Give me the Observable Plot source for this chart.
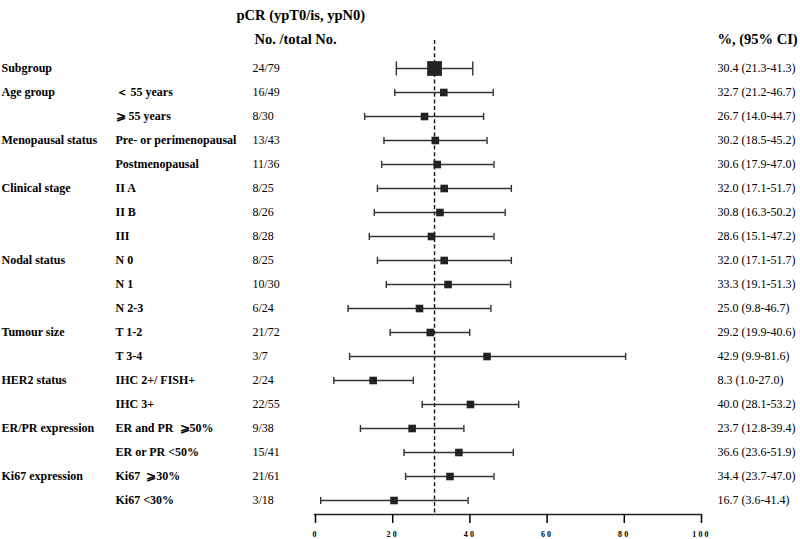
<!DOCTYPE html>
<html>
<head>
<meta charset="utf-8">
<script src="https://cdn.jsdelivr.net/npm/d3@7"></script>
<script src="https://cdn.jsdelivr.net/npm/@observablehq/plot@0.6"></script>
<style>
  html, body { margin: 0; padding: 0; background: #fff; }
  g[aria-label="x-axis tick label"] text { letter-spacing: 2.2px; fill: #000; }
</style>
</head>
<body>
<div id="chart"></div>
<script>
// ---- data ----
const groups = ["Subgroup", "Age group", "", "Menopausal status", "", "Clinical stage", "", "",
  "Nodal status", "", "", "Tumour size", "", "HER2 status", "", "ER/PR expression", "", "Ki67 expression", ""];
const subgroups = ["", "\uFF1C 55 years", "\u2A7E 55 years", "Pre- or perimenopausal", "Postmenopausal",
  "II A", "II B", "III", "N 0", "N 1", "N 2-3", "T 1-2", "T 3-4", "IHC 2+/ FISH+", "IHC 3+",
  "ER and PR  \u2A7E50%", "ER or PR <50%", "Ki67  \u2A7E30%", "Ki67 <30%"];
const counts = ["24/79", "16/49", "8/30", "13/43", "11/36", "8/25", "8/26", "8/28", "8/25", "10/30",
  "6/24", "21/72", "3/7", "2/24", "22/55", "9/38", "15/41", "21/61", "3/18"];
const ciText = ["30.4 (21.3-41.3)", "32.7 (21.2-46.7)", "26.7 (14.0-44.7)", "30.2 (18.5-45.2)",
  "30.6 (17.9-47.0)", "32.0 (17.1-51.7)", "30.8 (16.3-50.2)", "28.6 (15.1-47.2)", "32.0 (17.1-51.7)",
  "33.3 (19.1-51.3)", "25.0 (9.8-46.7)", "29.2 (19.9-40.6)", "42.9 (9.9-81.6)", "8.3 (1.0-27.0)",
  "40.0 (28.1-53.2)", "23.7 (12.8-39.4)", "36.6 (23.6-51.9)", "34.4 (23.7-47.0)", "16.7 (3.6-41.4)"];
// plotted positions as drawn in the figure
const est = [31.1, 33.5, 28.5, 31.3, 31.8, 33.6, 32.5, 30.3, 33.6, 34.6, 27.2, 30.0, 44.7, 15.2, 40.4, 25.3, 37.4, 35.1, 20.6];
const lo  = [21.2, 20.8, 13.0, 18.0, 17.4, 16.3, 15.5, 14.2, 16.3, 18.6, 8.7, 19.6, 9.1, 5.0, 27.9, 11.9, 23.2, 23.6, 1.6];
const hi  = [41.0, 46.3, 43.8, 44.7, 46.5, 51.0, 49.4, 46.5, 51.0, 50.8, 45.7, 40.2, 80.6, 25.6, 52.9, 38.7, 51.5, 46.5, 39.8];
const overall = 31.1;
const xTicks = [0, 20, 40, 60, 80, 100];
const headers = ["pCR (ypT0/is, ypN0)", "No. /total No.", "%, (95% CI)"];

const rows = groups.map((g, i) => ({
  id: i, group: g, sub: subgroups[i], count: counts[i], ci: ciText[i],
  est: est[i], lo: lo[i], hi: hi[i], big: i === 0
}));

// custom symbols (size = pi r^2)
const vbar = { draw(ctx, size) { const r = Math.sqrt(size / Math.PI); ctx.moveTo(0, -r); ctx.lineTo(0, r); } };
const sq = { draw(ctx, size) { const r = Math.sqrt(size / Math.PI); ctx.rect(-r, -r, 2 * r, 2 * r); } };

const W = 800, H = 539, ML = 314, MR = 100, MT = 40, MB = 25;
const ink = "#222";

const chart = Plot.plot({
  width: W, height: H,
  marginLeft: ML, marginRight: MR, marginTop: MT, marginBottom: MB,
  style: { fontFamily: "'Liberation Serif', 'Times New Roman', serif", color: "#000", background: "#fff", overflow: "visible" },
  x: { domain: [0, 100], axis: null },
  y: { type: "point", domain: rows.map(d => d.id), range: [65.5, 502], padding: 0, axis: null },
  r: { type: "identity" },
  marks: [
    Plot.ruleX([overall], { stroke: "#111", strokeWidth: 1.4, strokeDasharray: "4,2.6" }),
    Plot.ruleY(rows, { y: "id", x1: "lo", x2: "hi", stroke: "#333", strokeWidth: 1.3 }),
    Plot.dot(rows, { y: "id", x: "lo", symbol: vbar, r: d => d.big ? 7 : 3.6, stroke: "#333", strokeWidth: 1.4, fill: "none" }),
    Plot.dot(rows, { y: "id", x: "hi", symbol: vbar, r: d => d.big ? 7 : 3.6, stroke: "#333", strokeWidth: 1.4, fill: "none" }),
    Plot.dot(rows, { y: "id", x: "est", symbol: sq, r: d => d.big ? 7.4 : 3.8, fill: ink, stroke: "none" }),
    // axis
    Plot.frame({ anchor: "bottom", stroke: ink, strokeWidth: 1.5 }),
    Plot.axisX({ anchor: "bottom", ticks: xTicks, tickSize: 9, tickPadding: 8, fontSize: 8, fontWeight: "bold",
      strokeWidth: 1.5, label: null, tickFormat: d => String(d), dx: 1, fill: "#000" }),
    // left columns
    Plot.text(rows, { y: "id", text: "group", frameAnchor: "left", dx: 1 - ML, textAnchor: "start", fontSize: 12, fontWeight: "bold", fill: "#000" }),
    Plot.text(rows, { y: "id", text: "sub", frameAnchor: "left", dx: 115 - ML, textAnchor: "start", fontSize: 12, fontWeight: "bold", fill: "#000" }),
    Plot.text(rows, { y: "id", text: "count", frameAnchor: "left", dx: 252 - ML, textAnchor: "start", fontSize: 12, fill: "#000" }),
    Plot.text(rows, { y: "id", text: "ci", frameAnchor: "right", dx: 717 - (W - MR), textAnchor: "start", fontSize: 12, fill: "#000" }),
    // headers
    Plot.text([headers[0]], { frameAnchor: "top-left", dx: 236 - ML, dy: 9 - MT, textAnchor: "start", fontSize: 14.5, fontWeight: "bold", fill: "#000" }),
    Plot.text([headers[1]], { frameAnchor: "top-left", dx: 254 - ML, dy: 33 - MT, textAnchor: "start", fontSize: 14.5, fontWeight: "bold", fill: "#000" }),
    Plot.text([headers[2]], { frameAnchor: "top-right", dx: 717 - (W - MR), dy: 33 - MT, textAnchor: "start", fontSize: 14.5, fontWeight: "bold", fill: "#000" })
  ]
});
document.getElementById("chart").appendChild(chart);
</script>
</body>
</html>
